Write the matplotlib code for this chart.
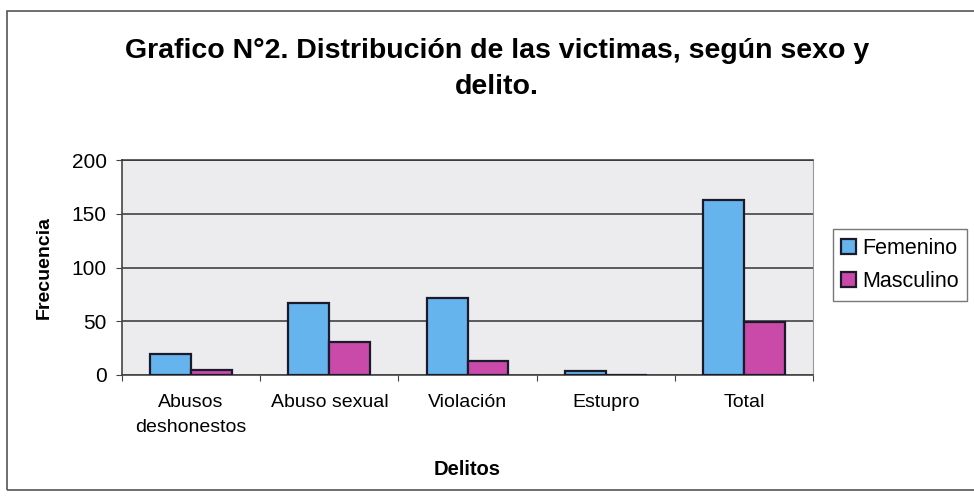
import numpy as np
import matplotlib.pyplot as plt
from matplotlib.patches import Rectangle

categorias = ["Abusos\ndeshonestos", "Abuso sexual", "Violación", "Estupro", "Total"]
femenino = [20, 67, 72, 4, 163]
masculino = [5, 31, 13, 0, 49]
series = ["Femenino", "Masculino"]

AZUL, ROSA, FONDO, INK = "#66b4ee", "#c94aa9", "#ececee", "#1a1a2a"
plt.rcParams.update({"font.family": ["Liberation Sans", "DejaVu Sans"]})

fig = plt.figure(figsize=(9.74, 5.0), dpi=100)
ax = fig.add_axes([0.1253, 0.25, 0.7094, 0.43])
ax.set_facecolor(FONDO)

x = np.arange(len(categorias))
w = 0.296
ax.bar(x - w / 2, femenino, w, color=AZUL, edgecolor=INK, lw=1.6, label=series[0], zorder=3)
ax.bar(x + w / 2, masculino, w, color=ROSA, edgecolor=INK, lw=1.6, label=series[1], zorder=3)

ax.set_xlim(-0.5, len(categorias) - 0.5)
ax.set_ylim(0, 200)
ax.set_yticks([0, 50, 100, 150, 200])
ax.yaxis.grid(True, color="#333333", lw=1.1, zorder=1)
ax.set_axisbelow(True)

# ticks on category boundaries, labels centred
ax.set_xticks(np.arange(len(categorias) + 1) - 0.5)
ax.set_xticklabels([])
ax.set_xticks(x, minor=True)
ax.set_xticklabels(categorias, minor=True, fontsize=14, linespacing=1.55)
ax.tick_params(axis="x", which="minor", length=0, pad=14)
ax.tick_params(axis="x", which="major", length=4, color="#444444")
ax.tick_params(axis="y", labelsize=15, length=4, pad=7, color="#444444")

ax.spines["right"].set_color("#9a9a9a")
ax.spines["right"].set_linewidth(0.8)
ax.spines["top"].set_color("#333333")
ax.spines["top"].set_linewidth(1.1)
for s in ["left", "bottom"]:
    ax.spines[s].set_color("#444444")
    ax.spines[s].set_linewidth(1.2)

ax.set_ylabel("Frecuencia", fontsize=14, fontweight="bold")
ax.yaxis.set_label_coords(-0.101, 0.5)
ax.set_xlabel("Delitos", fontsize=14.5, fontweight="bold")
ax.xaxis.set_label_coords(0.499, -0.395)

fig.text(0.51, 0.862, "Grafico N°2. Distribución de las victimas, según sexo y\ndelito.",
         ha="center", va="center", fontsize=20.5, fontweight="bold", linespacing=1.45)

leg = fig.legend(loc="center left", bbox_to_anchor=(0.855, 0.47), fontsize=15.5,
                 frameon=True, fancybox=False, edgecolor="#555555",
                 handlelength=0.7, handleheight=0.7, handletextpad=0.25,
                 borderpad=0.4, labelspacing=0.55, borderaxespad=0)
leg.get_frame().set_linewidth(1.0)

fig.patches.append(Rectangle((0.007, 0.02), 1.2, 0.958, transform=fig.transFigure,
                             fill=False, edgecolor="#555555", lw=1.2))

fig.savefig("out.png", dpi=100, facecolor="white")
